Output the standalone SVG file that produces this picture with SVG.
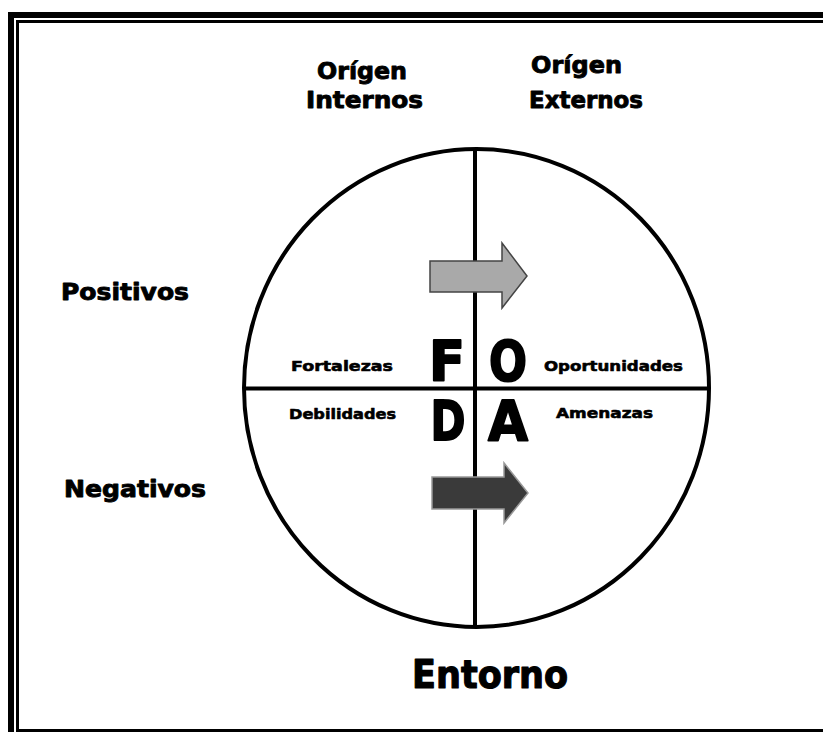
<svg xmlns="http://www.w3.org/2000/svg" width="823" height="732" viewBox="0 0 823 732">
<style>
.t{font-family:"DejaVu Sans","Liberation Sans",sans-serif;font-weight:bold;fill:#000;text-anchor:middle;stroke:#000;stroke-linejoin:round}
.lbl{font-size:23px;stroke-width:0.9}
.sm{font-size:14.5px;stroke-width:0.6}
.big{font-size:56px;stroke-width:2}
.ln{stroke:#000;stroke-width:4;fill:none}
</style>
<rect width="823" height="732" fill="#fff"/>
<g id="frame">
<path d="M11 732V15H823" fill="none" stroke="#000" stroke-width="6"/>
<path d="M17.5 732V21.5H823" fill="none" stroke="#000" stroke-width="3"/>
<path d="M16 730.5H823" fill="none" stroke="#000" stroke-width="3"/>
</g>
<g id="circle">
<ellipse cx="476.5" cy="388" rx="232.5" ry="239" class="ln"/>
</g>
<g id="connectors">
<line x1="475" y1="149" x2="475" y2="627" class="ln"/>
<line x1="244" y1="388.5" x2="709" y2="388.5" class="ln"/>
</g>
<g id="arrow-top">
<path d="M430 261H502V243L527 276L502 308V292H430Z" fill="#a9a9a9" stroke="#444" stroke-width="1.5"/>
</g>
<g id="arrow-bottom">
<path d="M432 477H504V463L528 493L504 523V509H432Z" fill="#3a3a3a" stroke="#999" stroke-width="1.5"/>
</g>
<g id="origen-internos">
<text class="t lbl" x="362" y="79" textLength="90" lengthAdjust="spacingAndGlyphs">Orígen</text>
<text class="t lbl" x="364.5" y="108" textLength="117" lengthAdjust="spacingAndGlyphs">Internos</text>
</g>
<g id="origen-externos">
<text class="t lbl" x="576.5" y="73" textLength="91" lengthAdjust="spacingAndGlyphs">Orígen</text>
<text class="t lbl" x="586" y="108" textLength="114" lengthAdjust="spacingAndGlyphs">Externos</text>
</g>
<g id="positivos">
<text class="t lbl" x="125" y="300" textLength="128" lengthAdjust="spacingAndGlyphs">Positivos</text>
</g>
<g id="negativos">
<text class="t lbl" x="135" y="497" textLength="142" lengthAdjust="spacingAndGlyphs">Negativos</text>
</g>
<g id="entorno">
<text class="t" style="font-size:39px;stroke-width:1.2" x="490" y="688" textLength="156" lengthAdjust="spacingAndGlyphs">Entorno</text>
</g>
<g id="fortalezas">
<text class="t sm" x="342" y="371" textLength="102" lengthAdjust="spacingAndGlyphs">Fortalezas</text>
<text class="t big" x="447" y="380" textLength="36" lengthAdjust="spacingAndGlyphs">F</text>
</g>
<g id="oportunidades">
<text class="t sm" x="613.5" y="371" textLength="139" lengthAdjust="spacingAndGlyphs">Oportunidades</text>
<text class="t big" x="508" y="380" textLength="38" lengthAdjust="spacingAndGlyphs">O</text>
</g>
<g id="debilidades">
<text class="t sm" x="342.5" y="419" textLength="107" lengthAdjust="spacingAndGlyphs">Debilidades</text>
<text class="t big" x="448" y="440" textLength="35" lengthAdjust="spacingAndGlyphs">D</text>
</g>
<g id="amenazas">
<text class="t sm" x="604.5" y="418" textLength="97" lengthAdjust="spacingAndGlyphs">Amenazas</text>
<text class="t big" x="508" y="440" textLength="40" lengthAdjust="spacingAndGlyphs">A</text>
</g>
</svg>
